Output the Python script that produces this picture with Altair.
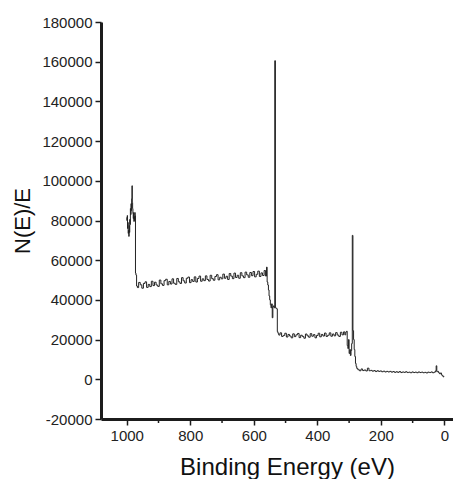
import altair as alt
import pandas as pd

# XPS survey spectrum: binding energy (eV) and intensity N(E)/E
energy = [
    1000, 999, 998, 997, 996, 995, 994, 993, 992, 991, 990, 989, 988, 987, 986,
    985, 984, 983, 982, 981, 980, 979, 978, 977, 976, 975, 974, 973, 972, 970, 968,
    965, 960, 955, 950, 945, 940, 935, 930, 925, 920, 915, 910, 905, 900, 895,
    890, 885, 880, 875, 870, 865, 860, 855, 850, 845, 840, 835, 830, 825, 820,
    815, 810, 805, 800, 795, 790, 785, 780, 775, 770, 765, 760, 755, 750, 745,
    740, 735, 730, 725, 720, 715, 710, 705, 700, 695, 690, 685, 680, 675, 670,
    665, 660, 655, 650, 645, 640, 635, 630, 625, 620, 615, 610, 605, 600, 595,
    590, 585, 580, 575, 570, 565, 561, 559, 557, 555, 553, 551, 549, 547, 545,
    543, 541, 539, 537, 535, 533, 531, 529, 527, 525, 523,
    520, 515, 510, 505, 500, 495, 490, 485, 480, 475, 470, 465, 460, 455, 450,
    445, 440, 435, 430, 425, 420, 415, 410, 405, 400, 395, 390, 385, 380, 375,
    370, 365, 360, 355, 350, 345, 340, 335, 330, 325, 320, 315, 312, 309, 307,
    305, 303, 301, 299, 297, 295, 293, 291, 289, 287, 285, 283, 281, 279, 277, 275,
    270, 265, 260, 255, 250, 245, 240, 235, 230, 225, 220, 215, 210, 205, 200,
    195, 190, 185, 180, 175, 170, 165, 160, 155, 150, 145, 140, 135, 130, 125,
    120, 115, 110, 105, 100, 95, 90, 85, 80, 75, 70, 65, 60, 55, 50, 45, 40,
    35, 30, 27, 25, 23, 20, 17, 14, 11, 8, 5, 3, 1,
]
intensity = [
    81500, 80000, 82500, 76000, 79000, 73500, 75000, 72000, 77500, 74000, 80500, 78000, 86000, 83000, 88500,
    85000, 91000, 97500, 89000, 86000, 83500, 81000, 84000, 79500, 82000, 80000, 84000, 82500, 53500, 52500, 47000,
    46200, 48800, 47600, 45900, 48300, 49100, 46300, 47800, 46700, 49400, 47200, 48900, 47500, 46800, 50000,
    48100, 47300, 49700, 50400, 47600, 49300, 48000, 50600, 48400, 47800, 50800, 49100, 48300, 51200, 49600,
    48500, 50900, 51500, 48700, 50200, 49300, 51600, 49000, 50800, 52000, 49400, 50600, 49700, 52100, 50300,
    49500, 52400, 50700, 49900, 51800, 52700, 50100, 51400, 50600, 53000, 50900, 51900, 50300, 53300, 52000,
    50700, 53500, 51300, 52400, 50900, 53700, 52100, 51200, 54000, 52600, 51400, 53800, 52200, 54300, 51600,
    52900, 54500, 51800, 53600, 52300, 54800, 52000, 56500, 49000, 47500, 45000, 42000, 40000, 37500, 36000,
    38000, 31000, 36500, 37000, 36000, 160500, 36000, 35800, 35500, 24000, 23200,
    22300, 23400, 21600, 22100, 23200, 21300, 22600, 21800, 20900, 22900, 21500, 22400, 23100, 21000, 22200,
    21600, 20700, 22800, 21900, 21200, 23000, 21700, 22500, 20900, 22100, 23200, 21400, 22600, 21800, 23300,
    21600, 22200, 23400, 21700, 22800, 21900, 23500, 22300, 21600, 23700, 22400, 23900, 22400, 23800, 24200,
    17000, 15500, 20000, 13000, 15000, 12000, 14500, 18000, 72500, 24500, 20000, 15000, 11500, 8000, 6500, 5500,
    4800, 4300, 5200, 4400, 4700, 4200, 5600, 4300, 4500, 4100, 4400, 3900, 4300, 4000, 4200,
    3800, 4100, 3700, 4000, 3700, 4000, 3600, 3900, 3500, 3800, 3500, 3900, 3400, 3700, 3500,
    3800, 3400, 3600, 3300, 3700, 3400, 3600, 3300, 3700, 3400, 3600, 3300, 3500, 3200, 3600, 3400, 3700,
    3300, 3600, 4200, 6800, 3800, 4000, 3300, 2800, 3200, 2200, 1800, 1200, 1500,
]

major_ticks = [1000, 800, 600, 400, 200, 0]
minor_ticks = [900, 700, 500, 300, 100]
y_ticks = [-20000, 0, 20000, 40000, 60000, 80000, 100000, 120000, 140000, 160000, 180000]

df = pd.DataFrame({"E": energy, "I": intensity})
minor_df = pd.DataFrame({"E": minor_ticks})

W, H = 352, 397

x_scale = alt.Scale(domain=[1081, -27], nice=False, zero=False)
x_axis = alt.Axis(
    values=major_ticks,
    title="Binding Energy (eV)",
    labelExpr="'' + datum.value",
    titleX=186,
    titleY=55,
    titleBaseline="alphabetic",
    titleAnchor="middle",
    titleFontSize=24,
)

spectrum = alt.Chart(df).mark_line(
    interpolate="step", color="#222222", strokeWidth=1, clip=True
).encode(
    x=alt.X("E:Q", scale=x_scale, axis=x_axis),
    y=alt.Y(
        "I:Q",
        scale=alt.Scale(domain=[-20000, 180000], nice=False, zero=False),
        axis=alt.Axis(
            values=y_ticks,
            title="N(E)/E",
            labelExpr="'' + datum.value",
            titlePadding=7,
            titleFontSize=22,
        ),
    ),
)

minor = alt.Chart(minor_df).mark_rule(color="#1c1c1c", strokeWidth=1.5).encode(
    x=alt.X("E:Q", scale=x_scale, axis=x_axis),
    y=alt.value(H + 1),
    y2=alt.value(H + 4),
)

chart = (
    alt.layer(spectrum, minor)
    .properties(
        width=W,
        height=H,
        padding={"left": 93, "top": 14, "right": 0, "bottom": 60},
        autosize=alt.AutoSizeParams(type="none"),
    )
    .configure_view(stroke=None)
    .configure_axis(
        grid=False,
        domainColor="#1c1c1c",
        domainWidth=3,
        tickColor="#1c1c1c",
        tickWidth=1.5,
        tickSize=6,
        labelFont="Liberation Sans",
        labelFontSize=15,
        labelColor="#222222",
        labelPadding=3,
        titleFont="Liberation Sans",
        titleFontWeight="normal",
        titleColor="#111111",
    )
)

chart.save("out.html", embed_options={"renderer": "svg", "actions": False})
